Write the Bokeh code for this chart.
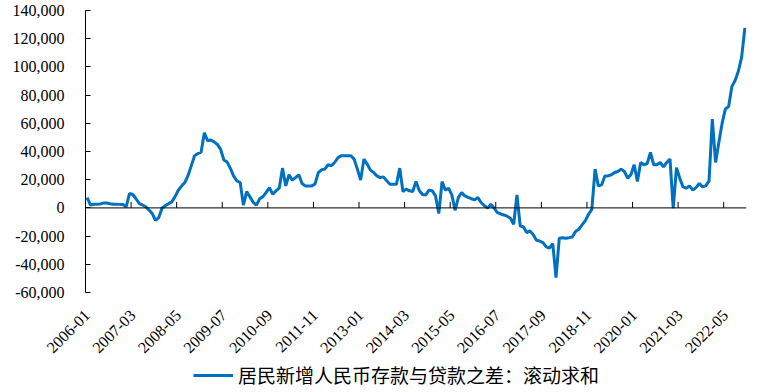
from math import pi
from bokeh.plotting import figure
from bokeh.layouts import column
from bokeh.models import (Legend, LegendItem, FixedTicker, NumeralTickFormatter,
                          Range1d, Span, ColumnDataSource)
from bokeh.embed import file_html
from bokeh.resources import INLINE

# ---- data ----
months = [f"{2006 + k // 12}-{k % 12 + 1:02d}" for k in range(203)]
values = [
    7300, 2100, 2600, 2600, 2800, 3400, 3500, 3000, 2600, 2600,
    2500, 2400, 700, 10200, 9500, 6500, 3100, 2100, 800, -1500,
    -4000, -8800, -6900, -200, 1600, 3000, 4300, 8000, 12500, 15500,
    18000, 23000, 30000, 37000, 38500, 39500, 53300, 47600, 48100, 46800,
    45000, 41500, 34000, 32500, 28000, 22500, 19200, 18000, 2000, 11600,
    7800, 4000, 2000, 6500, 8000, 11000, 14400, 9700, 12100, 14000,
    28200, 15600, 23500, 19700, 21500, 23500, 17300, 15600, 15600, 15600,
    17000, 25000, 27000, 27500, 30600, 29900, 32200, 35500, 37000, 37000,
    37000, 37000, 34600, 27500, 19700, 34600, 31100, 26800, 25100, 22700,
    21500, 22000, 19200, 16800, 16800, 16800, 28200, 11600, 13300, 12100,
    11600, 18700, 12300, 9500, 9200, 12600, 12100, 8500, -4000, 18700,
    12600, 14000, 9200, -1700, 7300, 10900, 8500, 7500, 6500, 5700,
    7300, 3800, 1500, 0, 2600, -200, -3300, -4300, -5000, -5900,
    -7300, -11600, 9200, -12800, -13500, -17500, -16300, -19000, -23000, -23500,
    -24600, -27700, -28600, -25300, -49500, -21500, -21100, -21500, -21100, -20600,
    -16800, -15200, -12000, -9000, -4500, -1000, 27500, 15600, 16300, 22700,
    22700, 23500, 25100, 25800, 27500, 25800, 21100, 23500, 30600, 18700,
    32200, 30600, 31500, 39300, 30600, 30600, 32200, 29100, 32200, 34600,
    -200, 28600, 21100, 14900, 14000, 15600, 12600, 14400, 17300, 14900,
    15600, 19200, 63000, 32200, 46400, 59900, 70100, 71800, 86000, 90300,
    96900, 106800, 127700,
]
tick_labels = ["2006-01", "2007-03", "2008-05", "2009-07", "2010-09", "2011-11",
               "2013-01", "2014-03", "2015-05", "2016-07", "2017-09", "2018-11",
               "2020-01", "2021-03", "2022-05"]
y_ticks = [-60000, -40000, -20000, 0, 20000, 40000, 60000, 80000, 100000, 120000, 140000]
series_name = "居民新增人民币存款与贷款之差：滚动求和"

LINE_COLOR = "#0070C0"
idx = list(range(len(months)))
tick_idx = [months.index(t) for t in tick_labels]

p = figure(width=772, height=360, output_backend="svg", toolbar_location=None,
           x_range=Range1d(-0.5, len(months) - 0.5),
           y_range=Range1d(y_ticks[0], y_ticks[-1]),
           min_border_left=85, min_border_right=26, min_border_top=10,
           min_border_bottom=68)
p.outline_line_color = None
p.xgrid.visible = False
p.ygrid.visible = False

src = ColumnDataSource(dict(x=idx, y=values))
r = p.line("x", "y", source=src, line_color=LINE_COLOR, line_width=3)

# zero category axis line
p.add_layout(Span(location=0, dimension="width", line_color="black", line_width=1))
# category tick marks between categories
tick_len = (y_ticks[-1] - y_ticks[0]) / 282 * 6
bx = [t - 0.5 for t in tick_idx[1:]]
p.segment(x0=bx, x1=bx, y0=[0] * len(bx), y1=[tick_len] * len(bx),
          line_color="black", line_width=1)

# y axis
ya = p.yaxis[0]
ya.ticker = FixedTicker(ticks=y_ticks)
ya.formatter = NumeralTickFormatter(format="0,0")
ya.axis_line_color = "black"
ya.major_tick_in = 5
ya.major_tick_out = 0
ya.minor_tick_line_color = None
ya.major_label_text_font = "Liberation Serif"
ya.major_label_text_font_size = "16px"
ya.major_label_text_color = "black"
ya.major_label_standoff = 21

# x axis (labels only)
xa = p.xaxis[0]
xa.ticker = FixedTicker(ticks=tick_idx)
xa.major_label_overrides = {i: t for i, t in zip(tick_idx, tick_labels)}
xa.axis_line_color = None
xa.major_tick_line_color = None
xa.minor_tick_line_color = None
xa.major_label_orientation = pi / 4
xa.major_label_text_font = "Liberation Serif"
xa.major_label_text_font_size = "16px"
xa.major_label_text_color = "black"
xa.major_label_standoff = 14

# legend strip (separate figure so the legend is not clipped)
lg = figure(width=772, height=32, output_backend="svg", toolbar_location=None,
            x_range=Range1d(0, 1), y_range=Range1d(0, 1),
            x_axis_type=None, y_axis_type=None,
            min_border_left=0, min_border_right=0, min_border_top=0,
            min_border_bottom=0)
lg.grid.visible = False
lg.outline_line_color = None
proxy = ColumnDataSource(dict(x=[idx[0]], y=[values[0]]))
lr = lg.line("x", "y", source=proxy, line_color=LINE_COLOR, line_width=3)
legend = Legend(items=[LegendItem(label=series_name, renderers=[lr])],
                orientation="horizontal", location=(108, 4),
                border_line_color=None, background_fill_alpha=0,
                label_text_font="Noto Sans CJK SC", label_text_font_size="19px",
                label_text_color="black",
                glyph_width=40, glyph_height=20, padding=0, margin=0,
                label_standoff=5)
lg.add_layout(legend, "center")

layout = column(p, lg, spacing=0)
open("out.html", "w").write(file_html(layout, INLINE))
